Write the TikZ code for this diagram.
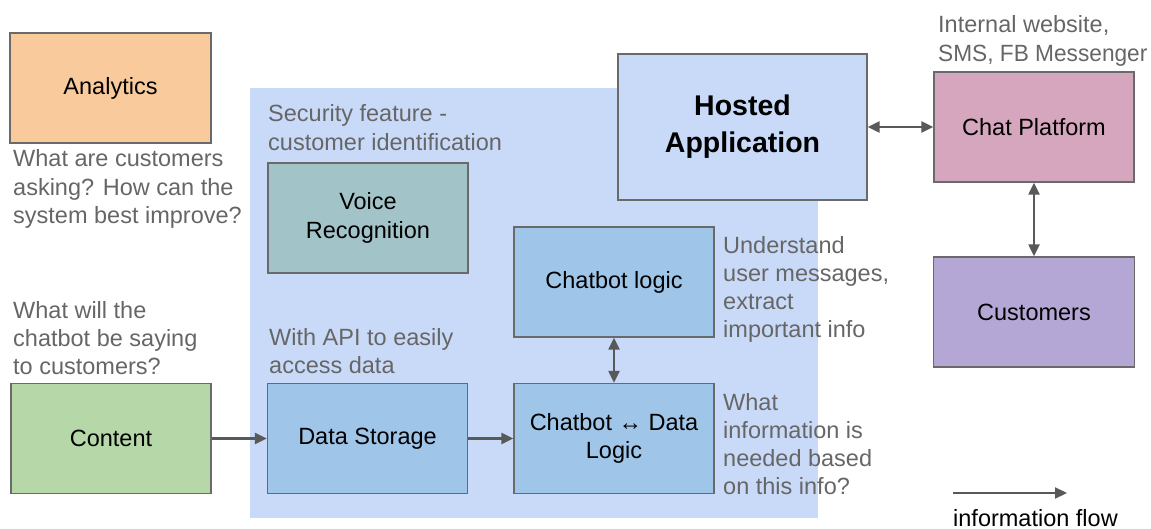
\documentclass[tikz,border=0pt]{standalone}
\usepackage{fontspec}
\usepackage{graphicx}
\setmainfont{Liberation Sans}
\usetikzlibrary{arrows.meta}

\definecolor{boxline}{HTML}{6A6A6A}
\definecolor{arrowgray}{HTML}{595959}
\definecolor{notegray}{HTML}{666666}
\definecolor{zone}{HTML}{C9DAF8}
\definecolor{orangefill}{HTML}{F9CB9C}
\definecolor{greenfill}{HTML}{B6D7A8}
\definecolor{tealfill}{HTML}{A2C4C9}
\definecolor{bluefill}{HTML}{9FC5E8}
\definecolor{hostfill}{HTML}{C9DAF8}
\definecolor{pinkfill}{HTML}{D5A6BD}
\definecolor{purplefill}{HTML}{B4A7D6}

\begin{document}
\begin{tikzpicture}[x=1pt, y=-1pt,
  box/.style={draw=boxline, line width=1.3pt, minimum width=200pt,
    minimum height=110pt, inner sep=0pt, align=center, text=black,
    font=\fontsize{23.5}{28.3}\selectfont},
  % notes are placed by the baseline of their last line
  note/.style={anchor=base west, align=left, inner sep=0pt, text=notegray,
    font=\fontsize{23.5}{28.3}\selectfont},
  tip/.tip={Triangle[length=12pt, width=11pt]},
  flow/.style={draw=arrowgray, line width=2.2pt, -tip},
  both/.style={draw=arrowgray, line width=2.2pt, tip-tip}]

  % canvas
  \useasboundingbox (0,0) rectangle (1151,529);

  % shaded zone holding the hosted components
  \fill[zone] (250,88) rectangle (818,518);

  % boxes
  \node[box, fill=orangefill, minimum width=201pt] (analytics) at (110.5,88) {Analytics};
  \node[box, fill=greenfill] (content) at (111,438.5) {Content};
  \node[box, fill=tealfill] (voice) at (368,218) {Voice\\Recognition};
  \node[box, fill=bluefill] (storage) at (367.5,438.5) {Data Storage};
  \node[box, fill=bluefill] (logic) at (614,282) {Chatbot logic};
  \node[box, fill=bluefill] (cdl) at (614,438.5) {Chatbot \mbox{↔} Data\\Logic};
  \node[box, fill=hostfill, minimum width=249pt, minimum height=146pt,
        font=\bfseries\fontsize{28.5}{37}\selectfont] (hosted) at (742.5,127) {Hosted\\Application};
  \node[box, fill=pinkfill] (chat) at (1034,127) {Chat Platform};
  \node[box, fill=purplefill, minimum width=201pt] (customers) at (1034,312) {Customers};

  % notes
  \node[note] (analyticsnote) at (13,223.6) {What are customers\\asking? How can the\\system best improve?};
  \node[note] (contentnote) at (13,374.6) {What will the\\chatbot be saying\\to customers?};
  \node[note] (voicenote) at (268,150.3) {Security feature -\\customer identification};
  \node[note] (storagenote) at (269,373.3) {With API to easily\\access data};
  \node[note] (logicnote) at (723,337.9) {Understand\\user messages,\\extract\\important info};
  \node[note] (cdlnote) at (723,494.9) {What\\information is\\needed based\\on this info?};
  \node[note] (chatnote) at (938,61.3) {Internal website,\\\scalebox{0.965}[1]{SMS, FB Messenger}};

  % connectors
  \draw[flow] (content) -- (storage);
  \draw[flow] (storage) -- (cdl);
  \draw[both] (logic) -- (cdl);
  \draw[both] (hosted) -- (chat);
  \draw[both] (chat) -- (customers);

  % legend
  \coordinate (legendstart) at (953,493);
  \coordinate (legendend) at (1067,493);
  \draw[flow] (legendstart) -- (legendend);
  \node[anchor=base west, inner sep=0pt, text=black,
        font=\fontsize{23.5}{28.3}\selectfont] (legendtext) at (953,526) {information flow};
\end{tikzpicture}
\end{document}
